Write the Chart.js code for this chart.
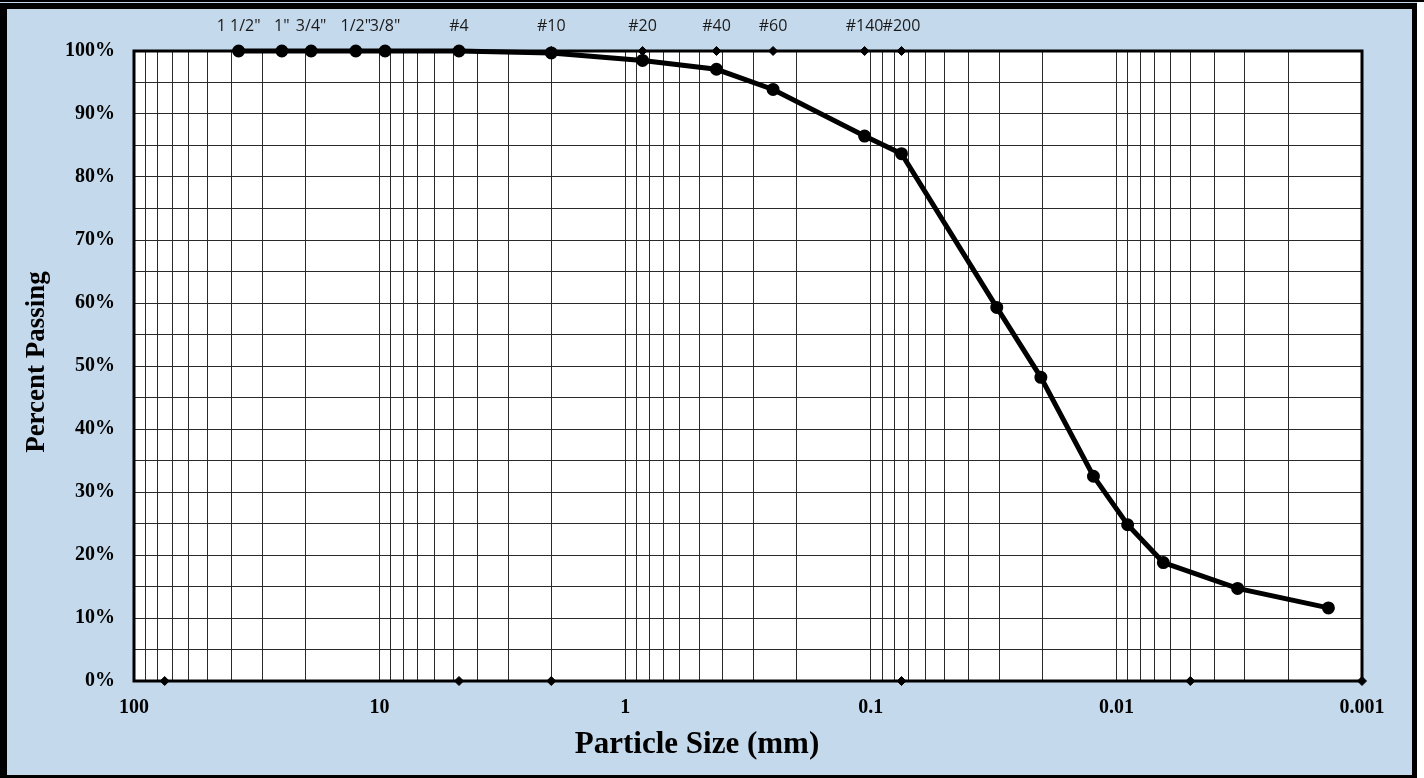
<!DOCTYPE html>
<html>
<head>
<meta charset="utf-8">
<script src="https://cdn.jsdelivr.net/npm/chart.js@4/dist/chart.umd.min.js"></script>
<style>
  html, body { margin: 0; padding: 0; background: #ffffff; }
  #wrap { width: 1424px; height: 778px; position: relative; }
</style>
</head>
<body>
<div id="wrap"><canvas id="c"></canvas></div>
<script>
// ---- data ----
const sieveLabels = ['1 1/2"', '1"', '3/4"', '1/2"', '3/8"', '#4', '#10', '#20', '#40', '#60', '#140', '#200'];
const sieveSizes = [37.5, 25, 19, 12.5, 9.5, 4.75, 2, 0.85, 0.425, 0.25, 0.106, 0.075];
const sieveMarkerPct = [100, 100, 100, 100, 100, 100, 100, 100, 100, 100, 100, 100];

const particleSizes = [37.5, 25, 19, 12.5, 9.5, 4.75, 2, 0.85, 0.425, 0.25, 0.106, 0.075,
                       0.0307, 0.0203, 0.0124, 0.0090, 0.00644, 0.00321, 0.00137];
const percentPassing = [100, 100, 100, 100, 100, 100, 99.7, 98.5, 97.1, 93.9, 86.5, 83.7,
                        59.3, 48.2, 32.5, 24.8, 18.8, 14.7, 11.6];

const boundarySizes = [75, 4.75, 2, 0.075, 0.005, 0.001];
const boundaryPct = [0, 0, 0, 0, 0, 0];

const xLabelValues = [100, 10, 1, 0.1, 0.01, 0.001];
const xLabelTexts = ['100', '10', '1', '0.1', '0.01', '0.001'];
const xGridMultipliers = [1, 2, 3, 4, 5, 6, 7, 8, 9];
const xGridDecades = [0.001, 0.01, 0.1, 1, 10];

const xTitle = 'Particle Size (mm)';
const yTitle = 'Percent Passing';

// ---- build ----
function pts(xs, ys) { return xs.map((x, i) => ({ x: x, y: ys[i] })); }

const xGridValues = [];
xGridDecades.forEach(d => xGridMultipliers.forEach(m => xGridValues.push(+(d * m).toPrecision(6))));
xGridValues.push(100);

const bgPlugin = {
  id: 'bg',
  beforeDraw(chart) {
    const ctx = chart.ctx, a = chart.chartArea;
    ctx.save();
    ctx.fillStyle = '#ffffff';
    ctx.fillRect(0, 0, chart.width, chart.height);
    ctx.fillStyle = '#c5d9ec';
    ctx.fillRect(0, 0, 1417, 778);
    ctx.fillStyle = '#000000';
    ctx.fillRect(0, 0, 1424, 2);
    ctx.fillRect(0, 3, 1417, 6);
    ctx.fillRect(0, 3, 7, 775);
    ctx.fillRect(1412, 3, 5, 775);
    ctx.fillRect(0, 775, 1417, 3);
    ctx.fillStyle = '#ffffff';
    ctx.fillRect(a.left, a.top, a.right - a.left, a.bottom - a.top);
    ctx.restore();
  },
  beforeDatasetsDraw(chart) {
    const ctx = chart.ctx, a = chart.chartArea;
    ctx.save();
    ctx.strokeStyle = '#000000';
    ctx.lineWidth = 3;
    ctx.strokeRect(a.left, a.top, a.right - a.left, a.bottom - a.top);
    ctx.restore();
  },
  afterDraw(chart) {
    const ctx = chart.ctx, a = chart.chartArea;
    ctx.save();
    // sieve labels above markers
    const meta = chart.getDatasetMeta(1);
    ctx.font = '16px "Open Sans", "Noto Sans", sans-serif';
    ctx.textAlign = 'center';
    ctx.textBaseline = 'alphabetic';
    ctx.fillStyle = '#1a1a1a';
    meta.data.forEach((el, i) => {
      ctx.fillText(sieveLabels[i], el.x, a.top - 20);
    });
    // axis titles
    ctx.fillStyle = '#000000';
    ctx.font = 'bold 31px "Liberation Serif", "Times New Roman", serif';
    ctx.textBaseline = 'middle';
    ctx.fillText(xTitle, 697, 745);
    ctx.translate(37, 362);
    ctx.rotate(-Math.PI / 2);
    ctx.font = 'bold 27px "Liberation Serif", "Times New Roman", serif';
    ctx.fillText(yTitle, 0, 0);
    ctx.restore();
  }
};

const tickFont = { family: '"Liberation Serif", "Times New Roman", serif', size: 20, weight: 'bold' };

new Chart(document.getElementById('c'), {
  type: 'scatter',
  data: {
    datasets: [
      {
        label: 'Gradation',
        data: pts(particleSizes, percentPassing),
        showLine: true,
        borderColor: '#000000',
        backgroundColor: '#000000',
        borderWidth: 5,
        pointRadius: 4,
        pointHoverRadius: 4,
        pointStyle: 'circle',
        tension: 0,
        clip: false,
        order: 1
      },
      {
        label: 'Sieves',
        data: pts(sieveSizes, sieveMarkerPct),
        showLine: false,
        borderColor: '#000000',
        backgroundColor: '#000000',
        pointStyle: 'rectRot',
        pointRadius: 4.5,
        borderWidth: 1,
        clip: false,
        order: 2
      },
      {
        label: 'Boundaries',
        data: pts(boundarySizes, boundaryPct),
        showLine: false,
        borderColor: '#000000',
        backgroundColor: '#000000',
        pointStyle: 'rectRot',
        pointRadius: 4.5,
        borderWidth: 1,
        clip: false,
        order: 3
      }
    ]
  },
  options: {
    responsive: true,
    maintainAspectRatio: false,
    animation: false,
    layout: { padding: { left: 0, right: 62, top: 51, bottom: 0 } },
    plugins: {
      legend: { display: false },
      tooltip: { enabled: false },
      title: { display: false }
    },
    scales: {
      x: {
        type: 'logarithmic',
        reverse: true,
        min: 0.001,
        max: 100,
        afterBuildTicks(scale) {
          scale.ticks = xGridValues.map(v => ({ value: v }));
        },
        afterFit(scale) { scale.height = 97; },
        grid: { color: '#2a2a2a', lineWidth: 1, drawTicks: false },
        border: { display: false },
        ticks: {
          autoSkip: false,
          maxRotation: 0,
          padding: 15,
          color: '#000000',
          font: tickFont,
          callback(value) {
            const idx = xLabelValues.findIndex(v => Math.abs(Math.log10(v) - Math.log10(value)) < 1e-6);
            return idx >= 0 ? xLabelTexts[idx] : '';
          }
        }
      },
      y: {
        type: 'linear',
        min: 0,
        max: 100,
        afterFit(scale) { scale.width = 134; },
        grid: { color: '#2a2a2a', lineWidth: 1, drawTicks: false },
        border: { display: false },
        ticks: {
          stepSize: 5,
          autoSkip: false,
          padding: 19,
          color: '#000000',
          font: tickFont,
          callback(value) { return value % 10 === 0 ? value + '%' : ''; }
        }
      }
    }
  },
  plugins: [bgPlugin]
});
</script>
</body>
</html>
